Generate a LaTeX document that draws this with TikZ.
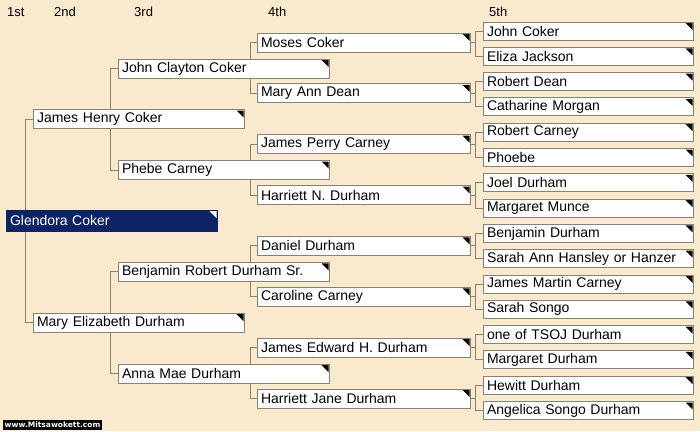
\documentclass[tikz,border=0pt]{standalone}
\usepackage{fontspec}
\setmainfont{Liberation Sans}
\newfontfamily\stampfont{DejaVu Sans}
\usetikzlibrary{backgrounds}

\definecolor{paper}{RGB}{250,234,205}
\definecolor{boxedge}{RGB}{140,128,112}
\definecolor{linkgray}{RGB}{140,128,112}
\definecolor{navy}{RGB}{12,35,102}

\tikzset{
  person/.style={rectangle, draw=boxedge, line width=1pt, fill=white,
    anchor=west, inner xsep=3.5pt, inner ysep=0pt, text width=204pt,
    minimum height=19pt, font=\fontsize{14}{16}\selectfont,
    path picture={\fill[black] ([shift={(-8pt,-1pt)}]path picture bounding box.north east)
      -- ++(7pt,0pt) -- ++(0pt,-7pt) -- cycle;}},
  proband/.style={person, fill=navy, draw=navy, text=white, minimum height=21pt,
    path picture={\fill[white] ([shift={(-8pt,-1pt)}]path picture bounding box.north east)
      -- ++(7pt,0pt) -- ++(0pt,-7pt) -- cycle;}},
  fourth/.style={person, text width=206pt},
  fifth/.style={person, text width=203pt, minimum height=18pt},
  genlabel/.style={anchor=west, inner sep=0pt, font=\fontsize{13}{15}\selectfont},
  link/.style={draw=linkgray, line width=1pt},
  stamp/.style={fill=black, text=white, anchor=south west, inner xsep=1.5pt, inner ysep=2pt,
    font=\stampfont\bfseries\fontsize{7.5}{8}\selectfont}
}

\begin{document}
\begin{tikzpicture}[x=1pt,y=-1pt]
  \useasboundingbox (0,0) rectangle (700,431);

  % generation headings
  \node[genlabel] (h1) at (7,12) {1st};
  \node[genlabel] (h2) at (54,12) {2nd};
  \node[genlabel] (h3) at (134,12) {3rd};
  \node[genlabel] (h4) at (268,12) {4th};
  \node[genlabel] (h5) at (489,12) {5th};

  % 1st
  \node[proband] (glendora) at (6,220.5) {Glendora Coker};

  % 2nd
  \node[person] (jamesH) at (33,119) {James Henry Coker};
  \node[person] (maryE) at (33,322.5) {Mary Elizabeth Durham};

  % 3rd
  \node[person] (johnC) at (118,68.5) {John Clayton Coker};
  \node[person] (phebe) at (118,170) {Phebe Carney};
  \node[person] (benjaminR) at (118,271.8) {Benjamin Robert Durham Sr.};
  \node[person] (annaM) at (118,373.5) {Anna Mae Durham};

  % 4th
  \node[fourth] (moses) at (257,42.5) {Moses Coker};
  \node[fourth] (maryA) at (257,93.4) {Mary Ann Dean};
  \node[fourth] (jamesP) at (257,144.2) {James Perry Carney};
  \node[fourth] (harriettN) at (257,195) {Harriett N. Durham};
  \node[fourth] (daniel) at (257,245.9) {Daniel Durham};
  \node[fourth] (caroline) at (257,296.8) {Caroline Carney};
  \node[fourth] (jamesE) at (257,347.6) {James Edward H. Durham};
  \node[fourth] (harriettJ) at (257,398.5) {Harriett Jane Durham};

  % 5th
  \node[fifth] (johnCo) at (483,31) {John Coker};
  \node[fifth] (eliza) at (483,56.3) {Eliza Jackson};
  \node[fifth] (robertD) at (483,81.6) {Robert Dean};
  \node[fifth] (catharine) at (483,106.9) {Catharine Morgan};
  \node[fifth] (robertC) at (483,132.2) {Robert Carney};
  \node[fifth] (phoebe) at (483,157.5) {Phoebe};
  \node[fifth] (joel) at (483,182.8) {Joel Durham};
  \node[fifth] (margaretM) at (483,208.1) {Margaret Munce};
  \node[fifth] (benjaminD) at (483,233.4) {Benjamin Durham};
  \node[fifth] (sarahA) at (483,258.7) {Sarah Ann Hansley or Hanzer};
  \node[fifth] (jamesM) at (483,284) {James Martin Carney};
  \node[fifth] (sarahS) at (483,309.3) {Sarah Songo};
  \node[fifth] (tsoj) at (483,334.6) {one of TSOJ Durham};
  \node[fifth] (margaretD) at (483,359.9) {Margaret Durham};
  \node[fifth] (hewitt) at (483,385.2) {Hewitt Durham};
  \node[fifth] (angelica) at (483,410.5) {Angelica Songo Durham};

  \node[stamp] (site) at (3,430) {www.Mitsawokett.com};

  \begin{scope}[on background layer]
    \fill[paper] (0,0) rectangle (700,431);
    % parents brackets
    \draw[link] (jamesH.west) -- ++(-8,0) |- (maryE.west);
    \draw[link] (johnC.west) -- ++(-8,0) |- (phebe.west);
    \draw[link] (benjaminR.west) -- ++(-8,0) |- (annaM.west);
    \draw[link] (moses.west) -- ++(-7,0) |- (maryA.west);
    \draw[link] (jamesP.west) -- ++(-7,0) |- (harriettN.west);
    \draw[link] (daniel.west) -- ++(-7,0) |- (caroline.west);
    \draw[link] (jamesE.west) -- ++(-7,0) |- (harriettJ.west);
    \draw[link] (johnCo.west) -- ++(-8,0) |- (eliza.west);
    \draw[link] (robertD.west) -- ++(-8,0) |- (catharine.west);
    \draw[link] (robertC.west) -- ++(-8,0) |- (phoebe.west);
    \draw[link] (joel.west) -- ++(-8,0) |- (margaretM.west);
    \draw[link] (benjaminD.west) -- ++(-8,0) |- (sarahA.west);
    \draw[link] (jamesM.west) -- ++(-8,0) |- (sarahS.west);
    \draw[link] (tsoj.west) -- ++(-8,0) |- (margaretD.west);
    \draw[link] (hewitt.west) -- ++(-8,0) |- (angelica.west);
    % stubs from 4th column
    \draw[link] (moses.east) -- ++(5,0);
    \draw[link] (maryA.east) -- ++(5,0);
    \draw[link] (jamesP.east) -- ++(5,0);
    \draw[link] (harriettN.east) -- ++(5,0);
    \draw[link] (daniel.east) -- ++(5,0);
    \draw[link] (caroline.east) -- ++(5,0);
    \draw[link] (jamesE.east) -- ++(5,0);
    \draw[link] (harriettJ.east) -- ++(5,0);
  \end{scope}
\end{tikzpicture}
\end{document}
